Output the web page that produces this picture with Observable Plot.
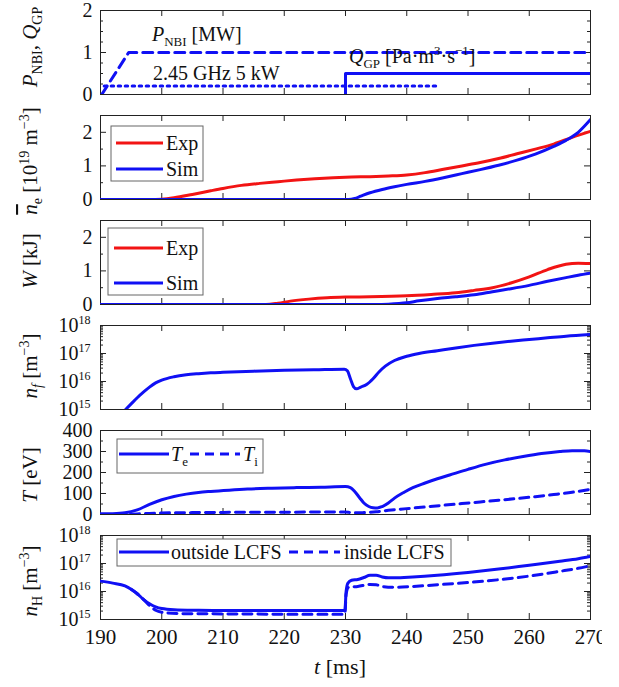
<!DOCTYPE html>
<html><head><meta charset="utf-8">
<script src="https://cdn.jsdelivr.net/npm/d3@7"></script>
<script src="https://cdn.jsdelivr.net/npm/@observablehq/plot@0.6"></script>
<style>
body{margin:0;background:#fff}
#wrap{position:relative;width:619px;height:687px;overflow:hidden;clip-path:inset(0 17px 0 0);font-family:"Liberation Serif","Times New Roman",serif}
#wrap svg{position:absolute;left:0;max-width:none !important}
</style>
</head><body><div id="wrap"></div>
<script>
// ---------- data ----------
const tTicks = [190,200,210,220,230,240,250,260,270];

const nbiT = [190.2, 194.6, 270];           const nbiV = [0, 1, 1];
const ecrhT = [190.6, 245];                 const ecrhV = [0.2, 0.2];
const qgpT = [230, 230, 270];               const qgpV = [0, 0.5, 0.5];

const neExpT = [190,198,200,202,205,208,210,213,216,219,222,225,228,231,234,237,240,243,246,249,252,255,258,261,264,267,270];
const neExpV = [0,0,0.01,0.05,0.15,0.26,0.33,0.42,0.48,0.53,0.58,0.62,0.65,0.67,0.68,0.7,0.73,0.8,0.9,1.0,1.1,1.22,1.36,1.5,1.65,1.85,2.03];
const neSimT = [190,230.5,231.5,232.5,234,236,238,240,243,246,249,252,255,258,261,264,266,268,270];
const neSimV = [0,0,0.03,0.1,0.2,0.3,0.38,0.45,0.54,0.65,0.77,0.89,1.02,1.17,1.35,1.58,1.76,2.0,2.38];

const wExpT = [190,217,219,221,224,227,230,234,240,244,248,251,254,257,260,263,266,268,270];
const wExpV = [0,0,0.04,0.1,0.16,0.2,0.22,0.23,0.26,0.3,0.35,0.42,0.5,0.64,0.82,1.04,1.2,1.23,1.22];
const wSimT = [190,235,237,240,242,245,248,251,254,257,260,263,266,268,270];
const wSimV = [0,0,0.01,0.05,0.11,0.18,0.23,0.29,0.38,0.47,0.57,0.69,0.8,0.87,0.93];

const nfT = [194.1,195,196,197,198,199,200,202,204,206,208,210,215,220,225,229.8,230.3,230.8,231.3,231.8,232.5,233.5,234.5,235.5,236.5,238,240,242,245,248,251,254,257,260,263,266,270];
const nfLog = [15.0,15.2,15.42,15.62,15.8,15.95,16.05,16.17,16.24,16.28,16.31,16.33,16.37,16.4,16.42,16.44,16.38,16.1,15.82,15.74,15.8,15.9,16.1,16.35,16.55,16.75,16.9,17.0,17.1,17.2,17.29,17.37,17.44,17.5,17.56,17.62,17.68];

const teT = [190,192,194,196,198,200,202,204,206,208,211,214,218,222,226,230,230.8,231.5,232.3,233,233.8,234.5,235.2,236,237,238,239.5,241,243,245,247,250,253,256,259,262,265,267,269,270];
const teV = [3,4,8,22,48,70,86,97,105,110,116,121,125,128,130,133,128,110,80,55,38,32,31,38,55,78,105,128,150,170,188,215,240,260,276,290,300,304,303,300];
const tiT = [190,194,197,200,205,210,220,229.8,231,232,233,235,237,240,243,246,249,252,255,258,261,264,267,270];
const tiV = [0,1,4,7,9,10,11,12,9,8,9,13,20,28,36,44,52,60,68,76,85,95,106,120];

const nhOutT = [190,192,194,195,196,197,198,199,200,202,206,210,220,229.9,230.1,230.4,231,232,233,234,235,236,237,238,241,245,250,255,260,265,268,270];
const nhOutLog = [16.37,16.3,16.2,16.08,15.92,15.72,15.56,15.45,15.39,15.35,15.33,15.32,15.32,15.32,16.0,16.3,16.4,16.43,16.5,16.58,16.58,16.52,16.49,16.49,16.52,16.58,16.68,16.8,16.94,17.08,17.17,17.25];
const nhInT = [195,196,197,198,199,200,203,210,220,229.9,230.1,230.5,232,234,235,236,238,241,245,250,255,260,265,268,270];
const nhInLog = [16.08,15.92,15.72,15.5,15.33,15.26,15.21,15.2,15.19,15.19,15.9,16.15,16.18,16.25,16.24,16.18,16.15,16.18,16.24,16.32,16.42,16.55,16.72,16.83,16.92];

const linTicks1 = [0,1,2], minor1 = [0.25,0.5,0.75,1.25,1.5,1.75];
const linTicks23 = [0,1,2], minor23 = [0.5,1.5];
const linTicks5 = [0,100,200,300,400], minor5 = [50,150,250,350];
const decades = [15,16,17,18];
const logMinor = [];
[15,16,17].forEach(d => { for (let k = 2; k <= 9; k++) logMinor.push(k * 10 ** d); });

// ---------- layout ----------
const TOPS = [10,115,220,325,430,535];
const FH = 84, ML = 100, MR = 29, WIDTH = 619;
const FW = WIDTH - ML - MR;
const BLUE = "#1010f4", RED = "#f21414", INK = "#222";
const FONT = "Liberation Serif, Times New Roman, serif";
const wrap = document.getElementById("wrap");
const rows = (T, V) => T.map((t, i) => ({t, v: V[i]}));
const rowsLog = (T, L) => T.map((t, i) => ({t, v: 10 ** L[i]}));

function tickMarks(major, minor) {
  const s = {stroke: INK, strokeWidth: 1};
  return [
    Plot.tickX(tTicks, {x: d => d, insetBottom: FH - 6, ...s}),
    Plot.tickX(tTicks, {x: d => d, insetTop: FH - 6, ...s}),
    Plot.tickY(major, {y: d => d, insetRight: FW - 6, ...s}),
    Plot.tickY(major, {y: d => d, insetLeft: FW - 6, ...s}),
    Plot.tickY(minor, {y: d => d, insetRight: FW - 3, ...s}),
    Plot.tickY(minor, {y: d => d, insetLeft: FW - 3, ...s})
  ];
}
function logLabels() {
  return [
    Plot.text(decades, {y: d => 10 ** d, frameAnchor: "left", text: () => "10", textAnchor: "end", dx: -22, dy: 0, fontSize: 20, fill: "#111"}),
    Plot.text(decades, {y: d => 10 ** d, frameAnchor: "left", text: d => String(d), textAnchor: "start", dx: -22, dy: -5, fontSize: 12, fill: "#111"})
  ];
}
function linLabels(ticks) {
  return Plot.axisY({ticks, tickSize: 0, tickPadding: 8, label: null, fontSize: 20, tickFormat: d => String(d), fill: "#111"});
}

function rich(sel, parts, size) {
  let shift = 0;
  parts.forEach(p => {
    const [str, kind] = typeof p === "string" ? [p, ""] : p;
    const small = kind.includes("sub") || kind.includes("sup");
    const target = kind.includes("sub") ? 5 : kind.includes("sup") ? -8 : 0;
    const ts = sel.append("tspan").text(str).attr("dy", target - shift)
      .attr("font-size", small ? Math.round(size * 0.65) : size);
    shift = target;
    if (kind.includes("it")) ts.attr("font-style", "italic");
    if (kind.includes("over")) ts.style("text-decoration", "overline");
  });
}

function makePanel(i, o) {
  const mt = i === 0 ? 10 : 12;
  const mb = i === 5 ? 70 : 12;
  const svgTop = TOPS[i] - mt;
  const plot = Plot.plot({
    width: WIDTH, height: FH + mt + mb,
    marginLeft: ML, marginRight: MR, marginTop: mt, marginBottom: mb,
    style: {fontFamily: FONT, fontSize: "20px", color: "#111", background: "none", overflow: "visible", maxWidth: "none"},
    x: {domain: [190, 270], axis: null},
    y: {type: o.log ? "log" : "linear", domain: o.domain, axis: null},
    marks: [
      Plot.frame({stroke: INK, strokeWidth: 1}),
      ...tickMarks(o.major, o.minor),
      ...(o.log ? logLabels() : [linLabels(o.major)]),
      ...(i === 5 ? [Plot.axisX({ticks: tTicks, tickSize: 0, tickPadding: 10, label: null, fontSize: 21, fill: "#111"})] : []),
      ...o.marks
    ]
  });
  plot.style.top = svgTop + "px";
  wrap.appendChild(plot);
  const svg = d3.select(plot);
  const g = svg.append("g").attr("font-family", FONT).attr("fill", "#111").attr("text-anchor", "start");
  const Y = y => y - svgTop;
  const tt = g.append("text").attr("text-anchor", "middle")
    .attr("transform", `translate(37,${Y(o.titleY)}) rotate(-90)`).attr("font-size", 21);
  rich(tt, o.title, 21);
  return {plot, g, Y};
}

function legend(g, Y, box, items) {
  g.append("rect").attr("x", box[0]).attr("y", Y(box[2])).attr("width", box[1] - box[0]).attr("height", box[3] - box[2])
    .attr("fill", "#fff").attr("stroke", "#666").attr("stroke-width", 1);
  items.forEach(it => {
    g.append("line").attr("x1", it.x0).attr("x2", it.x1).attr("y1", Y(it.y)).attr("y2", Y(it.y))
      .attr("stroke", it.color).attr("stroke-width", 3).attr("stroke-dasharray", it.dash || null);
    const t = g.append("text").attr("x", it.tx).attr("y", Y(it.y + 7)).attr("font-size", 20);
    rich(t, it.text, 20);
  });
}

const lineOpt = (color, extra = {}) => ({x: "t", y: "v", stroke: color, strokeWidth: 3, curve: "monotone-x", clip: true, ...extra});

// ---------- panel 1 ----------
{
  const {g, Y} = makePanel(0, {
    domain: [0, 2], major: linTicks1, minor: minor1, titleY: 47,
    title: [["P", "it"], ["NBI", "sub"], ", ", ["Q", "it"], ["GP", "sub"]],
    marks: [
      Plot.line(rows(nbiT, nbiV), lineOpt(BLUE, {curve: "linear", strokeDasharray: "10,6"})),
      Plot.line(rows(ecrhT, ecrhV), lineOpt(BLUE, {curve: "linear", strokeDasharray: "2.5,4.5"})),
      Plot.line(rows(qgpT, qgpV), lineOpt(BLUE, {curve: "linear"}))
    ]
  });
  const a = g.append("text").attr("x", 152).attr("y", Y(41)).attr("font-size", 20);
  rich(a, [["P", "it"], ["NBI", "sub"], " [MW]"], 20);
  const b = g.append("text").attr("x", 153).attr("y", Y(80)).attr("font-size", 20);
  rich(b, ["2.45 GHz 5 kW"], 20);
  const c = g.append("text").attr("x", 349).attr("y", Y(63)).attr("font-size", 20);
  rich(c, [["Q", "it"], ["GP", "sub"], " [Pa·m", ["3", "sup"], "·s", ["−1", "sup"], "]"], 20);
}
// ---------- panel 2 ----------
{
  const {g, Y} = makePanel(1, {
    domain: [0, 2.5], major: linTicks23, minor: minor23, titleY: 161,
    title: [["n", "it over"], ["e", "sub"], " [10", ["19", "sup"], " m", ["−3", "sup"], "]"],
    marks: [
      Plot.line(rows(neExpT, neExpV), lineOpt(RED)),
      Plot.line(rows(neSimT, neSimV), lineOpt(BLUE))
    ]
  });
  legend(g, Y, [111, 203, 126, 181], [
    {x0: 116, x1: 163, y: 143, color: RED, tx: 166, text: ["Exp"]},
    {x0: 116, x1: 163, y: 169, color: BLUE, tx: 166, text: ["Sim"]}
  ]);
}
// ---------- panel 3 ----------
{
  const {g, Y} = makePanel(2, {
    domain: [0, 2.5], major: linTicks23, minor: minor23, titleY: 261,
    title: [["W", "it"], " [kJ]"],
    marks: [
      Plot.line(rows(wExpT, wExpV), lineOpt(RED)),
      Plot.line(rows(wSimT, wSimV), lineOpt(BLUE))
    ]
  });
  legend(g, Y, [108, 203, 228, 295], [
    {x0: 114, x1: 163, y: 248, color: RED, tx: 166, text: ["Exp"]},
    {x0: 114, x1: 163, y: 283, color: BLUE, tx: 166, text: ["Sim"]}
  ]);
}
// ---------- panel 4 ----------
{
  makePanel(3, {
    log: true, domain: [1e15, 1e18], major: decades.map(d => 10 ** d), minor: logMinor, titleY: 366,
    title: [["n", "it"], ["f", "sub it"], " [m", ["−3", "sup"], "]"],
    marks: [Plot.line(rowsLog(nfT, nfLog), lineOpt(BLUE))]
  });
}
// ---------- panel 5 ----------
{
  const {g, Y} = makePanel(4, {
    domain: [0, 400], major: linTicks5, minor: minor5, titleY: 475,
    title: [["T", "it"], " [eV]"],
    marks: [
      Plot.line(rows(tiT, tiV), lineOpt(BLUE, {strokeDasharray: "9,6"})),
      Plot.line(rows(teT, teV), lineOpt(BLUE))
    ]
  });
  legend(g, Y, [117, 263, 439, 473], [
    {x0: 119, x1: 169, y: 454, color: BLUE, tx: 171, text: [["T", "it"], ["e", "sub"]]},
    {x0: 190, x1: 240, y: 454, color: BLUE, dash: "9,6", tx: 243, text: [["T", "it"], ["i", "sub"]]}
  ]);
}
// ---------- panel 6 ----------
{
  const {g, Y} = makePanel(5, {
    log: true, domain: [1e15, 1e18], major: decades.map(d => 10 ** d), minor: logMinor, titleY: 581,
    title: [["n", "it"], ["H", "sub"], " [m", ["−3", "sup"], "]"],
    marks: [
      Plot.line(rowsLog(nhInT, nhInLog), lineOpt(BLUE, {strokeDasharray: "9,6"})),
      Plot.line(rowsLog(nhOutT, nhOutLog), lineOpt(BLUE))
    ]
  });
  legend(g, Y, [117, 451, 539, 566], [
    {x0: 119, x1: 169, y: 552, color: BLUE, tx: 171, text: ["outside LCFS"]},
    {x0: 289, x1: 340, y: 552, color: BLUE, dash: "9,6", tx: 344, text: ["inside LCFS"]}
  ]);
  const xl = g.append("text").attr("x", 340).attr("y", Y(674)).attr("text-anchor", "middle").attr("font-size", 22);
  rich(xl, [["t", "it"], " [ms]"], 22);
}
</script></body></html>
